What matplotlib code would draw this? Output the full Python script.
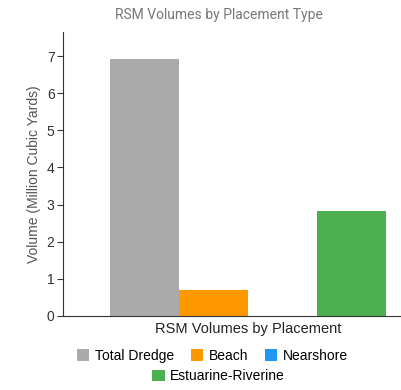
import matplotlib.pyplot as plt
from matplotlib.patches import Patch

# RSM volumes (million cubic yards) per placement type
categories = ["Total Dredge", "Beach", "Nearshore", "Estuarine-Riverine"]
volumes = [6.92, 0.70, 0.0, 2.83]
colors = ["#aaaaaa", "#ff9800", "#2196f3", "#4caf50"]
yticks = [0, 1, 2, 3, 4, 5, 6, 7]

plt.rcParams['font.family'] = ['Liberation Sans', 'DejaVu Sans']

fig = plt.figure(figsize=(4.01, 3.9), dpi=100)
ax = fig.add_axes([0.157, 0.19, 0.843, 0.728])

width = 1.0
offsets = [(i - (len(categories) - 1) / 2) * width for i in range(len(categories))]
for off, v, c in zip(offsets, volumes, colors):
    ax.bar(off, v, width=width, color=c, align='center')

ax.set_xlim(-2.68, 2.22)
ax.set_ylim(0, 7.65)
ax.set_yticks(yticks)
ax.set_xticks([])
ax.spines['top'].set_visible(False)
ax.spines['right'].set_visible(False)
ax.spines['left'].set_color('#333333')
ax.spines['bottom'].set_color('#333333')
ax.tick_params(axis='y', length=4, color='#333333', labelsize=10, labelcolor='#333333', pad=2)

ax.set_ylabel("Volume (Million Cubic Yards)", fontsize=10, color='#555555', labelpad=4)
ax.set_xlabel("RSM Volumes by Placement", fontsize=10.5, color='#222222', labelpad=9)
ax.xaxis.set_label_coords(0.547, -0.045, transform=ax.transAxes)
ax.xaxis.label.set_va('center')
fig.text(0.546, 0.962, "RSM Volumes by Placement Type", ha='center', va='center',
         fontsize=10, color='#777777', family=['Roboto', 'DejaVu Sans'])

handles = [Patch(facecolor=c, edgecolor='none') for c in colors]
leg1 = fig.legend(handles[:3], categories[:3], loc='center', bbox_to_anchor=(0.53, 0.088),
                  ncol=3, frameon=False, fontsize=10, handlelength=0.9, handleheight=0.9,
                  handletextpad=0.4, columnspacing=1.2, borderpad=0)
fig.legend(handles[3:], categories[3:], loc='center', bbox_to_anchor=(0.545, 0.035),
           ncol=1, frameon=False, fontsize=10, handlelength=0.9, handleheight=0.9,
           handletextpad=0.4, borderpad=0)

fig.savefig("out.png", dpi=100)
